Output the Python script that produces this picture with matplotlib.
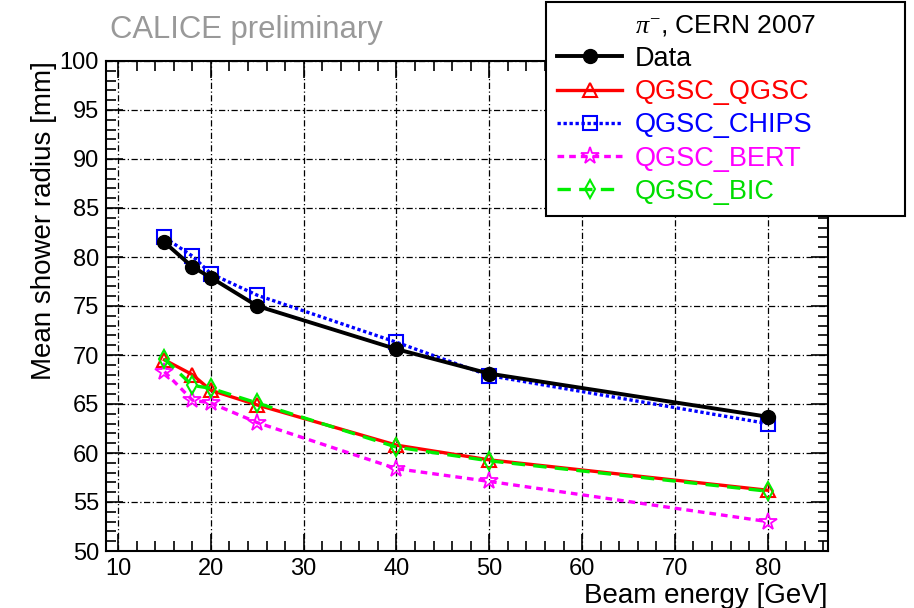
import matplotlib
matplotlib.use("Agg")
import matplotlib.pyplot as plt
from matplotlib.ticker import MultipleLocator

plt.rcParams['font.family'] = ['Liberation Sans', 'DejaVu Sans']
plt.rcParams['mathtext.fontset'] = 'custom'
plt.rcParams['mathtext.rm'] = 'Liberation Serif'
plt.rcParams['mathtext.it'] = 'Liberation Serif:italic'

energy = [15, 18, 20, 25, 40, 50, 80]
data = [81.5, 79.0, 77.9, 75.0, 70.6, 68.1, 63.7]
qgsc_qgsc = [69.5, 68.0, 66.4, 64.9, 60.8, 59.3, 56.2]
qgsc_chips = [82.0, 80.1, 78.3, 76.1, 71.3, 67.9, 63.0]
qgsc_bert = [68.3, 65.4, 65.1, 63.1, 58.4, 57.1, 53.0]
qgsc_bic = [69.6, 66.9, 66.6, 65.1, 60.6, 59.2, 56.1]

W, H = 914, 608
fig = plt.figure(figsize=(W / 100, H / 100), dpi=100)
ax = fig.add_axes([106 / W, 1 - 551 / H, (828 - 106) / W, (551 - 61) / H])

lw = 2.4
ax.plot(energy, qgsc_chips, color='#0000ff', linestyle=(0, (1, 0.8)), lw=lw,
        marker='s', ms=10, mfc='none', mec='#0000ff', mew=1.5, label='QGSC_CHIPS', zorder=3)
ax.plot(energy, data, color='black', linestyle='-', lw=lw + 0.4,
        marker='o', ms=10, mfc='black', mec='black', label='Data', zorder=4)
ax.plot(energy, qgsc_qgsc, color='#ff0000', linestyle='-', lw=lw,
        marker='^', ms=10, mfc='none', mec='#ff0000', mew=1.5, label='QGSC_QGSC', zorder=3)
ax.plot(energy, qgsc_bert, color='#ff00ff', linestyle=(0, (2, 1.5)), lw=lw,
        marker='*', ms=13, mfc='none', mec='#ff00ff', mew=1.3, label='QGSC_BERT', zorder=3)
ax.plot(energy, qgsc_bic, color='#00ee00', linestyle=(0, (4, 2.5)), lw=lw,
        marker='d', ms=9, mfc='none', mec='#00ee00', mew=1.5, label='QGSC_BIC', zorder=3)

ax.set_xlim(8.7, 86.5)
ax.set_ylim(50, 100)
ax.xaxis.set_major_locator(MultipleLocator(10))
ax.xaxis.set_minor_locator(MultipleLocator(2))
ax.yaxis.set_major_locator(MultipleLocator(5))
ax.yaxis.set_minor_locator(MultipleLocator(1))
ax.tick_params(which='both', direction='in', top=True, right=True, labelsize=17, width=1.2)
ax.tick_params(which='major', length=12)
ax.tick_params(which='minor', length=7)
ax.tick_params(axis='x', pad=5)
ax.tick_params(axis='y', pad=5)
ax.grid(True, which='major', color='black', linestyle=(0, (5, 2, 1, 2)), lw=0.9)
for s in ax.spines.values():
    s.set_linewidth(1.5)

ax.set_ylabel('Mean shower radius [mm]', fontsize=20, loc='top', labelpad=2)
ax.set_xlabel('Beam energy [GeV]', fontsize=20, loc='right', labelpad=2)

fig.text(110 / W, 1 - 30 / H, 'CALICE preliminary', color='#999999', fontsize=22.3, va='center', ha='left')

order = ['Data', 'QGSC_QGSC', 'QGSC_CHIPS', 'QGSC_BERT', 'QGSC_BIC']
hs, ls = ax.get_legend_handles_labels()
d = dict(zip(ls, hs))
leg = fig.legend([d[k] for k in order], order, loc='upper left',
                 bbox_to_anchor=(546 / W, 1 - 2 / H, (905 - 546) / W, 0), mode='expand',
                 title=r'$\pi^{-}$, CERN 2007', title_fontsize=19, fontsize=19.5,
                 frameon=True, fancybox=False, edgecolor='black', framealpha=1,
                 handlelength=2.4, handletextpad=0.45, labelspacing=0.27, borderpad=0.42,
                 borderaxespad=0)
leg.get_frame().set_linewidth(1.5)
cols = {'Data': 'black', 'QGSC_QGSC': '#ff0000', 'QGSC_CHIPS': '#0000ff',
        'QGSC_BERT': '#ff00ff', 'QGSC_BIC': '#00dd00'}
for t in leg.get_texts():
    t.set_color(cols[t.get_text()])

fig.savefig('out.png', dpi=100)
